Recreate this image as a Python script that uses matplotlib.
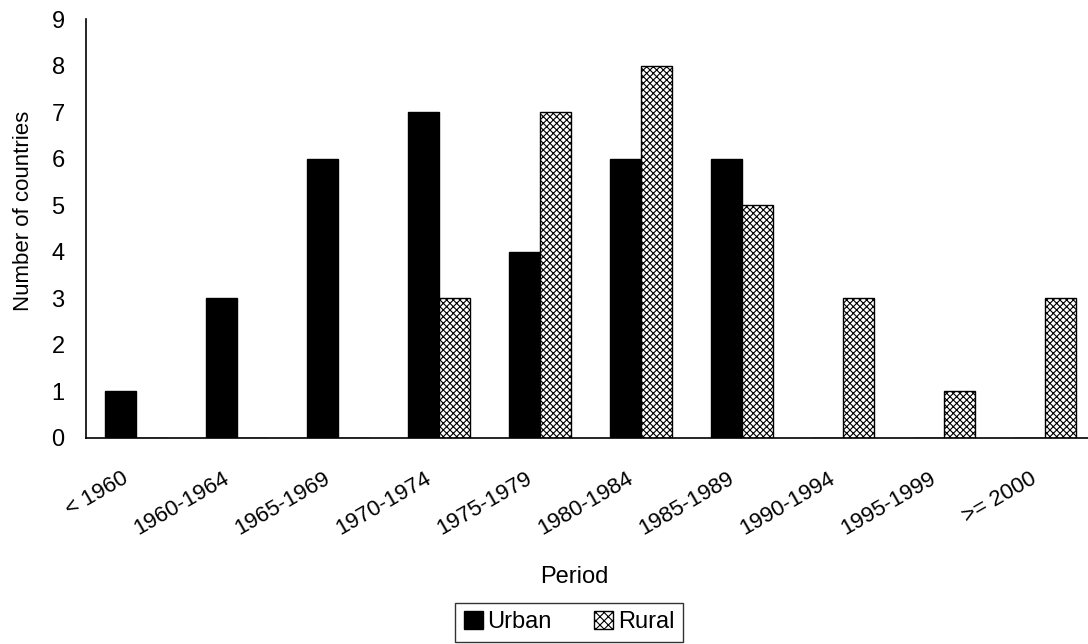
import numpy as np
import matplotlib.pyplot as plt
import matplotlib.transforms as mtransforms
from matplotlib.patches import Patch

plt.rcParams['font.family'] = ['Liberation Sans', 'DejaVu Sans']
plt.rcParams['hatch.linewidth'] = 0.8
plt.rcParams['hatch.color'] = '#666666'

periods = ['< 1960', '1960-1964', '1965-1969', '1970-1974', '1975-1979',
           '1980-1984', '1985-1989', '1990-1994', '1995-1999', '>= 2000']
urban = [1, 3, 6, 7, 4, 6, 6, 0, 0, 0]
rural = [0, 0, 0, 3, 7, 8, 5, 3, 1, 3]

fig = plt.figure(figsize=(10.88, 6.44), dpi=100)
# the plot area runs a little past the right edge of the figure
ax = fig.add_axes([0.0786, 0.3204, 0.9283, 0.6498])

x = np.arange(len(periods))
w = 0.307
ax.bar(x - w / 2, urban, w, color='black', edgecolor='black', linewidth=1)
ax.bar(x + w / 2, rural, w, color='white', edgecolor='black', linewidth=1,
       hatch='xxxxx')

ax.set_xlim(-0.5, len(periods) - 0.5)
ax.set_ylim(0, 9)
ax.set_yticks(range(10))
ax.set_xticks(x)
ax.set_xticklabels(periods, rotation=30, ha='right', rotation_mode='anchor')
ax.tick_params(length=0)
ax.tick_params(axis='y', pad=15, labelsize=17)
ax.tick_params(axis='x', pad=22, labelsize=16)
# nudge rotated labels to the left of their category
shift = mtransforms.ScaledTranslation(-15 / 100, 0, fig.dpi_scale_trans)
for lbl in ax.get_xticklabels():
    lbl.set_transform(lbl.get_transform() + shift)

for s in ['top', 'right']:
    ax.spines[s].set_visible(False)
for s in ['left', 'bottom']:
    ax.spines[s].set_linewidth(1.2)

ax.set_ylabel('Number of countries', fontsize=16)
ax.yaxis.set_label_coords(-0.051, 0.543)
ax.set_xlabel('Period', fontsize=17)
ax.xaxis.set_label_coords(0.4837, -0.3066)

handles = [Patch(facecolor='black', edgecolor='black', label='Urban'),
           Patch(facecolor='white', edgecolor='black', hatch='xxxx', label='Rural')]
fig.legend(handles=handles, loc='upper center', bbox_to_anchor=(0.523, 0.0637),
           borderaxespad=0, ncol=2, frameon=True, fancybox=False,
           edgecolor='black', fontsize=17, handlelength=0.8, handleheight=0.8,
           handletextpad=0.2, columnspacing=1.8, borderpad=0.35)

fig.savefig('out.png', dpi=100)
